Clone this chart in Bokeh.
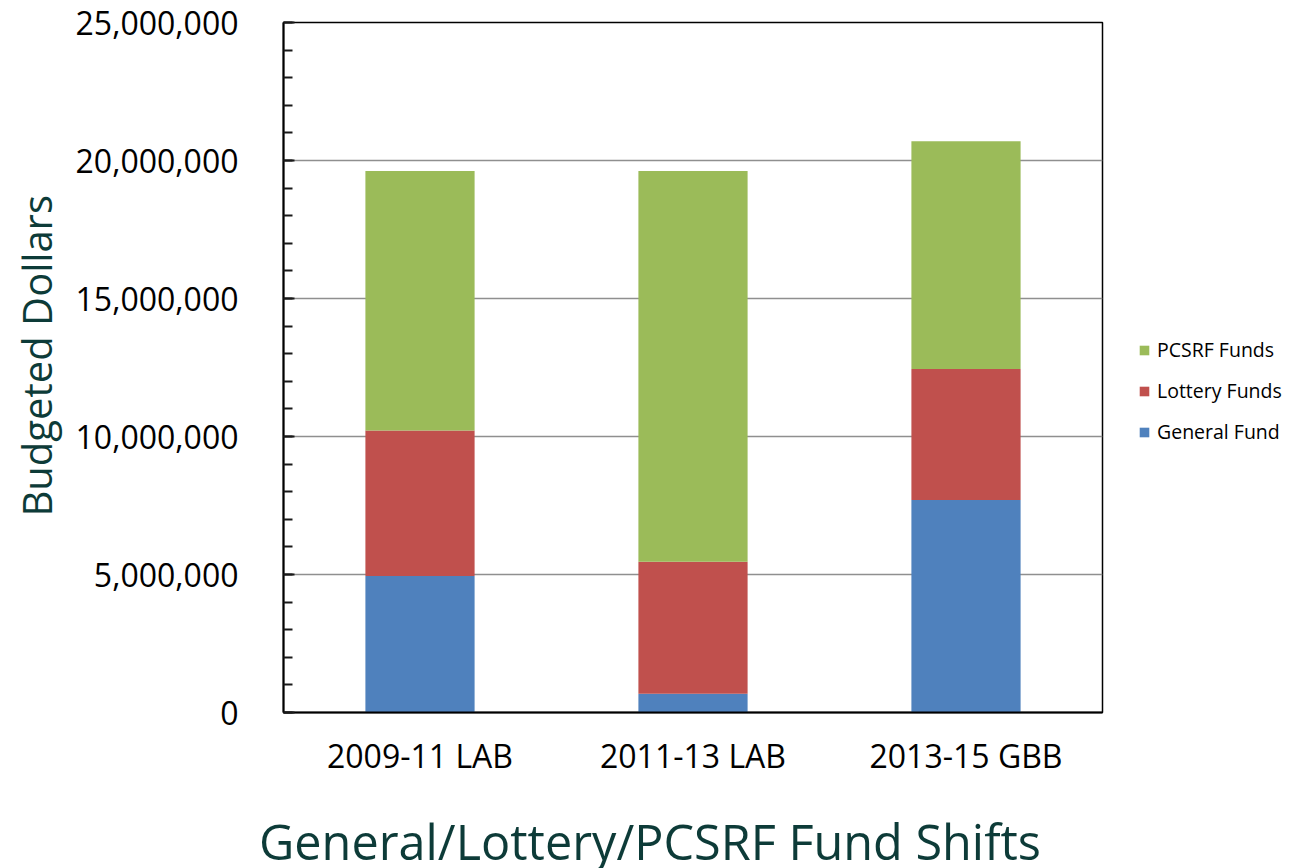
from bokeh.plotting import figure
from bokeh.layouts import column
from bokeh.models import (ColumnDataSource, Range1d, FactorRange, NumeralTickFormatter,
                          Legend, LegendItem, Div, SingleIntervalTicker, Title)
from bokeh.embed import file_html
from bokeh.resources import INLINE

# ---- data ----
periods = ["2009-11 LAB", "2011-13 LAB", "2013-15 GBB"]
general_fund = [4950000, 680000, 7700000]
lottery_funds = [5270000, 4780000, 4750000]
pcsrf_funds = [9400000, 14160000, 8250000]
series = ["General Fund", "Lottery Funds", "PCSRF Funds"]
colors = ["#4F81BD", "#C0504D", "#9BBB59"]
chart_title = "General/Lottery/PCSRF Fund Shifts"
y_title = "Budgeted Dollars"

FONT = "Open Sans"
TEAL = "#0d3b38"

source = ColumnDataSource(dict(period=periods, general=general_fund,
                               lottery=lottery_funds, pcsrf=pcsrf_funds))

p = figure(frame_width=819, frame_height=690, x_range=FactorRange(*periods, range_padding=0),
           y_range=Range1d(0, 25000000), output_backend="svg", toolbar_location=None,
           min_border_left=283, min_border_right=189, min_border_top=22, min_border_bottom=100)

renderers = p.vbar_stack(["general", "lottery", "pcsrf"], x="period", width=0.4,
                         color=colors, line_color=None, source=source)

# frame
p.outline_line_color = "#000000"
p.outline_line_width = 1.5
p.background_fill_color = "white"
p.border_fill_color = "white"

# grid
p.xgrid.grid_line_color = None
p.ygrid.grid_line_color = "#8f8f8f"
p.ygrid.grid_line_width = 1.5

# y axis
p.yaxis.ticker = SingleIntervalTicker(interval=5000000, num_minor_ticks=5)
p.yaxis.formatter = NumeralTickFormatter(format="0,0")
p.yaxis.axis_line_color = "#000000"
p.yaxis.axis_line_width = 2
p.yaxis.major_tick_in = 11
p.yaxis.major_tick_out = 0
p.yaxis.minor_tick_in = 9
p.yaxis.minor_tick_out = 0
p.yaxis.major_tick_line_color = "#1a1a1a"
p.yaxis.minor_tick_line_color = "#1a1a1a"
p.yaxis.major_tick_line_width = 2
p.yaxis.minor_tick_line_width = 2
p.yaxis.major_label_text_font = FONT
p.yaxis.major_label_text_font_size = "32px"
p.yaxis.major_label_text_color = "#000000"
p.yaxis.major_label_standoff = 45

# y axis title (left panel, outside the tick labels)
p.add_layout(Title(text=y_title, align="left", offset=196, vertical_align="top", standoff=13,
                   text_font=FONT, text_font_size="40px", text_font_style="normal",
                   text_color=TEAL), "left")

# x axis
p.xaxis.axis_line_color = "#000000"
p.xaxis.axis_line_width = 2
p.xaxis.major_tick_line_color = None
p.xaxis.minor_tick_line_color = None
p.xaxis.major_label_text_font = FONT
p.xaxis.major_label_text_font_size = "32px"
p.xaxis.major_label_text_color = "#000000"
p.xaxis.major_label_standoff = 15

# legend (in the right side panel)
legend = Legend(items=[LegendItem(label=series[2], renderers=[renderers[2]]),
                       LegendItem(label=series[1], renderers=[renderers[1]]),
                       LegendItem(label=series[0], renderers=[renderers[0]])],
                location=(36, 267), orientation="vertical",
                glyph_width=12, glyph_height=12, label_standoff=7,
                label_text_font=FONT, label_text_font_size="19.5px", label_text_color="#000000",
                label_height=24, spacing=14, padding=0, margin=0,
                border_line_color=None, background_fill_alpha=0)
p.add_layout(legend, "right")

# chart title below the plot
title_div = Div(text=chart_title, width=1291, height=56, margin=0,
                styles={"font-family": "'Open Sans'", "font-size": "48.6px", "color": TEAL,
                        "line-height": "48px", "padding-top": "5px", "padding-left": "259px",
                        "white-space": "nowrap", "box-sizing": "border-box"})

layout = column(p, title_div, spacing=0)
open("out.html", "w").write(file_html(layout, INLINE))
